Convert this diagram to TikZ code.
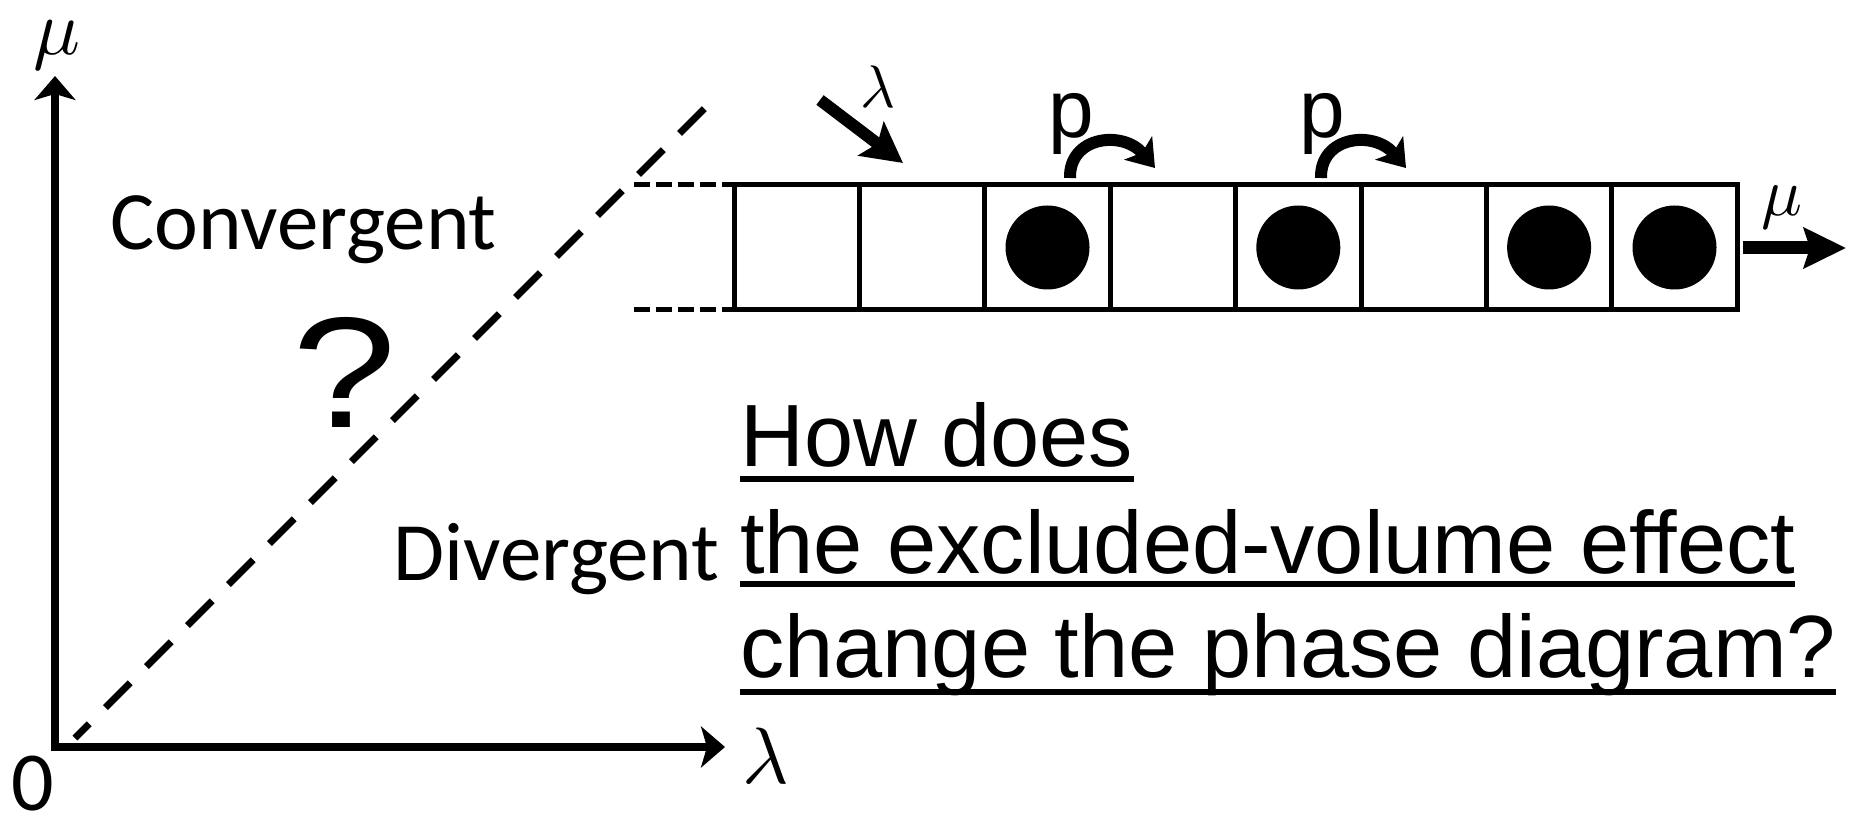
\documentclass[tikz,border=0pt]{standalone}
\usepackage{fontspec}
\usepackage{graphicx}
\newfontfamily\calibri{Carlito}
\newfontfamily\arial{Liberation Sans}
\usetikzlibrary{arrows.meta}
\begin{document}
\begin{tikzpicture}[x=1pt,y=-1pt,
  axis/.style={line width=8pt,-{Stealth[length=24pt,width=41pt,inset=6pt]}},
  cell/.style={draw,line width=5pt,minimum width=125.4pt,minimum height=125pt,inner sep=0pt,outer sep=0pt},
  ball/.style={circle,fill=black,minimum size=84pt,inner sep=0pt},
  ext/.style={line width=5pt,dash pattern=on 16pt off 6pt},
  diag/.style={line width=7pt,dash pattern=on 35pt off 23pt,dash phase=15pt},
  inarrow/.style={line width=12pt,-{Stealth[length=40pt,width=42pt,inset=8pt]}},
  outarrow/.style={line width=13pt,-{Stealth[length=42pt,width=40pt,inset=6pt]}},
  hop/.style={line width=12pt,-{Stealth[length=26pt,width=36pt,inset=6pt]}},
  cal/.style={font=\calibri\fontsize{83}{99}\selectfont,inner sep=0pt,anchor=base west},
  qline/.style={font=\arial\fontsize{88.4}{106}\selectfont,inner sep=0pt,anchor=base west},
  ul/.style={line width=5.5pt},
  plabel/.style={font=\arial\fontsize{82}{98}\selectfont,inner sep=0pt,anchor=base},
  mathlab/.style={inner sep=0pt},
]
\useasboundingbox (0,0) rectangle (1858,818);

% axes
\coordinate (Ov) at (55,751);
\coordinate (Oh) at (51,747);
\coordinate (ytip) at (55,76);
\coordinate (xtip) at (725,747);
\draw[axis] (Ov) -- (ytip);
\draw[axis] (Oh) -- (xtip);
\node[mathlab] (mulab) at (57,45) {\scalebox{7.8}{$\mu$}};
\node[mathlab] (lamlab) at (766,756) {\scalebox{8}{$\lambda$}};
\node[font=\calibri\fontsize{84}{100}\selectfont,inner sep=0pt] (zero) at (33,784) {0};

% phase boundary
\coordinate (d0) at (75,738);
\coordinate (d1) at (706,107);
\draw[diag] (d0) -- (d1);

\node[cal] (conv) at (110,250) {Convergent};
\node[cal] (div) at (393,580) {Divergent};
\node[inner sep=0pt] (qm) at (345,372) {\resizebox{104pt}{110pt}{\arial ?}};

% lattice
\foreach \i in {1,...,8}
  \node[cell] (c\i) at ({734+125.4*(\i-0.5)},247.5) {};
\foreach \i in {3,5,7,8}
  \node[ball] (b\i) at (c\i) {};
\coordinate (e1) at (634,185);
\coordinate (e2) at (634,310);
\draw[ext] (e1) -- (c1.north west);
\draw[ext] (e2) -- (c1.south west);

% injection
\coordinate (la0) at (820,100);
\coordinate (la1) at (903,163);
\draw[inarrow] (la0) -- (la1);
\node[mathlab] (lamin) at (878,87) {\scalebox{6}{$\lambda$}};

% hops
\coordinate (h1s) at (1070,178);
\coordinate (h1e) at (1155,168);
\draw[hop] (h1s) .. controls +(-1,-42) and +(-32,-38) .. (h1e);
\node[plabel] (p1) at (1071.5,138) {p};
\coordinate (h2s) at (1321,178);
\coordinate (h2e) at (1406,168);
\draw[hop] (h2s) .. controls +(-1,-42) and +(-32,-38) .. (h2e);
\node[plabel] (p2) at (1322.5,138) {p};

% exit
\coordinate (mu0) at (1743,248);
\coordinate (mu1) at (1846,248);
\draw[outarrow] (mu0) -- (mu1);
\node[mathlab] (muout) at (1782,207) {\scalebox{6.8}{$\mu$}};

% question
\node[qline] (q1) at (740,466) {How does};
\node[qline] (q2) at (740,573) {the excluded-volume effect};
\node[qline] (q3) at (740,677) {change the phase diagram?};
\draw[ul] ([yshift=-13pt]q1.base west) -- ([yshift=-13pt]q1.base east);
\draw[ul] ([yshift=-11pt]q2.base west) -- ([yshift=-11pt]q2.base east);
\draw[ul] ([yshift=-15pt]q3.base west) -- ([yshift=-15pt]q3.base east);
\end{tikzpicture}
\end{document}
